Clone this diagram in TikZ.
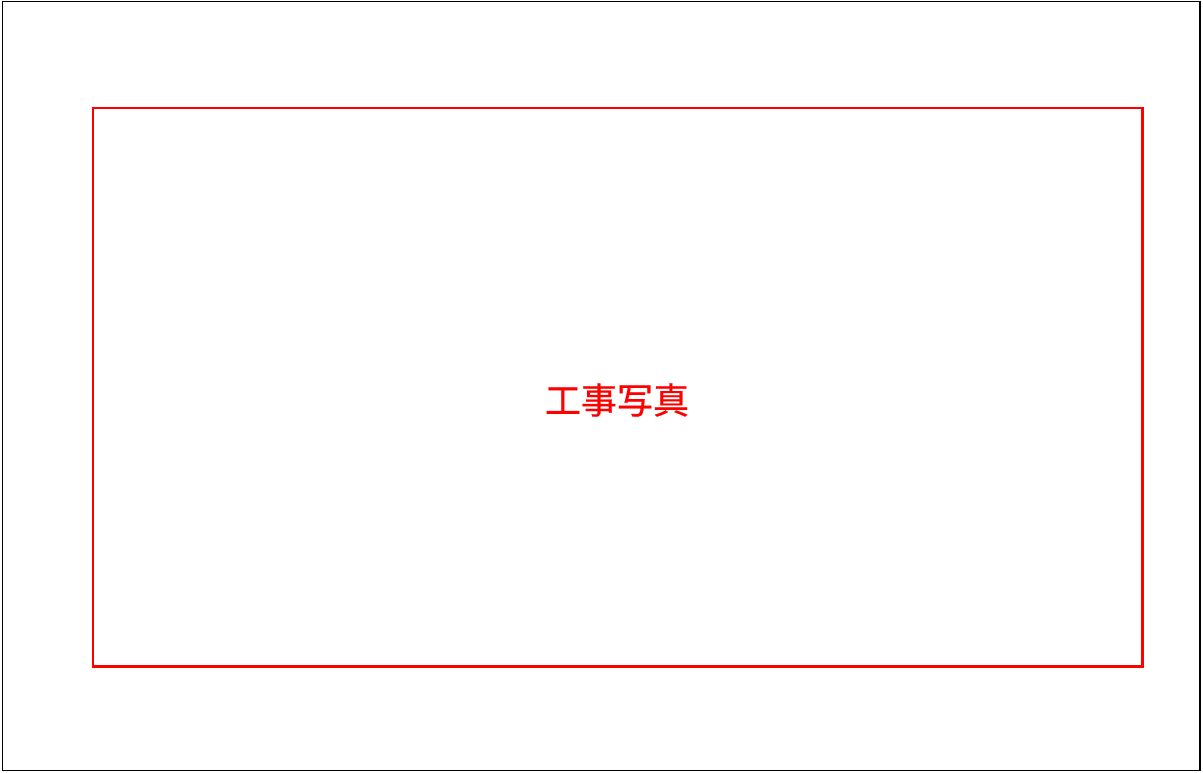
\documentclass[tikz,border=0pt]{standalone}
\usepackage{fontspec}
\newfontfamily\cjk[FakeBold=0.6]{Noto Sans CJK JP}
\usepackage{tikz}
\tikzset{
	sheet/.style={draw=black, line width=1.1pt},
	photoframe/.style={draw=red, line width=1.7pt},
	photolabel/.style={text=red, font=\cjk\fontsize{20.5}{24}\selectfont, inner sep=0pt}
}

\begin{document}
\begin{tikzpicture}[x=0.2mm, y=-0.2mm]
		\useasboundingbox (0, 0) rectangle (1203, 772);
		% The outer sheet
		\draw [sheet] (2.5, 1.5) rectangle (1200, 770.5);
		% The frame for the photograph
		\draw [photoframe] (93, 108) rectangle (1142, 666);
		% Label of the frame
		\node [photolabel] (photo) at (617, 400) {工事写真};
	\end{tikzpicture}
\end{document}
